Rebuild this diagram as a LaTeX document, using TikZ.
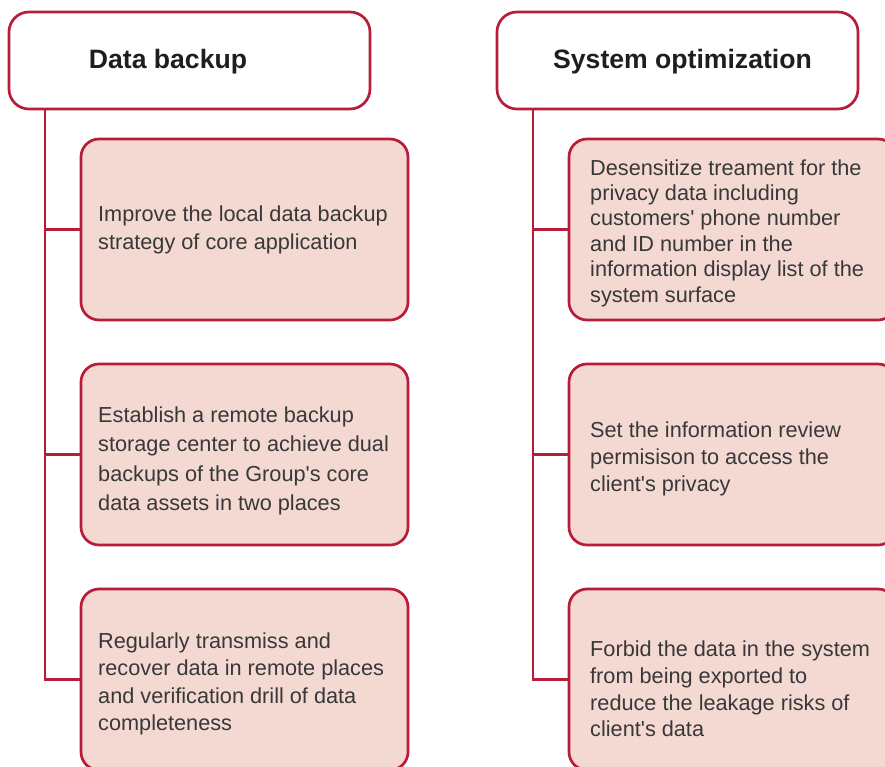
\documentclass[tikz,border=0pt]{standalone}
\usepackage{fontspec}
\setmainfont{Liberation Sans}
\definecolor{cred}{HTML}{B71C3A}
\definecolor{cfill}{HTML}{F4D9D3}
\definecolor{ctext}{HTML}{383838}
\definecolor{ctitle}{HTML}{1E1E1E}
\newcommand{\sq}{\textquotesingle}
\tikzset{
  headbox/.style={draw=cred, line width=2.7pt, fill=white, rounded corners=20pt, minimum width=361pt, minimum height=97pt, inner sep=0pt},
  itembox/.style={draw=cred, line width=2.7pt, fill=cfill, rounded corners=18pt, minimum width=327pt, minimum height=181pt, inner sep=0pt},
  titletext/.style={font=\fontsize{26.6}{30}\selectfont\bfseries, text=ctitle, inner sep=0pt},
  itemtext/.style={text=ctext, inner sep=0pt, align=left, anchor=west},
  trunk/.style={draw=cred, line width=2.7pt}
}
\begin{document}
\begin{tikzpicture}[x=1pt, y=-1pt]
\clip (0,0) rectangle (885,766);
\fill[white] (0,0) rectangle (885,766);
% headers
\node[headbox] (h1) at (189.5,60.5) {};
\node[titletext] (h1t) at (168,62) {Data backup};
\node[headbox] (h2) at (677.5,60.5) {};
\node[titletext] (h2t) at (682.5,62) {System optimization};
% left boxes
\node[itembox] (b1) at (244.5,229.5) {};
\node[itembox] (b2) at (244.5,454.5) {};
\node[itembox] (b3) at (244.5,679.5) {};
% right boxes
\node[itembox] (c1) at (732.5,229.5) {};
\node[itembox] (c2) at (732.5,454.5) {};
\node[itembox] (c3) at (732.5,679.5) {};
% connectors
\coordinate (ta) at (45,109);
\coordinate (tb) at (533,109);
\draw[trunk] (ta) |- (b3.west);
\draw[trunk] (b1.west -| ta) -- (b1.west);
\draw[trunk] (b2.west -| ta) -- (b2.west);
\draw[trunk] (tb) |- (c3.west);
\draw[trunk] (c1.west -| tb) -- (c1.west);
\draw[trunk] (c2.west -| tb) -- (c2.west);
% texts
\node[itemtext, font=\fontsize{21.7}{28}\selectfont] (b1t) at (98,230) {Improve the local data backup\\strategy of core application};
\node[itemtext, font=\fontsize{21.7}{29.3}\selectfont] (b2t) at (98,461) {Establish a remote backup\\storage center to achieve dual\\backups of the Group\sq s core\\data assets in two places};
\node[itemtext, font=\fontsize{21.7}{27.3}\selectfont] (b3t) at (98,684) {Regularly transmiss and\\recover data in remote places\\and verification drill of data\\completeness};
\node[itemtext, font=\fontsize{21.7}{25.4}\selectfont] (c1t) at (590,233) {Desensitize treament for the\\privacy data including\\customers\sq\ phone number\\and ID number in the\\information display list of the\\system surface};
\node[itemtext, font=\fontsize{21.7}{27}\selectfont] (c2t) at (590,459) {Set the information review\\permisison to access the\\client\sq s privacy};
\node[itemtext, font=\fontsize{21.7}{26.7}\selectfont] (c3t) at (590,689) {Forbid the data in the system\\from being exported to\\reduce the leakage risks of\\client\sq s data};
\end{tikzpicture}
\end{document}
